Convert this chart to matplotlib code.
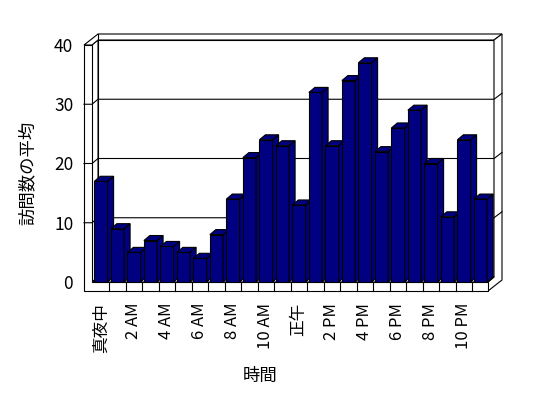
import matplotlib.pyplot as plt
from matplotlib.patches import Polygon

plt.rcParams['font.family'] = ['Noto Sans CJK JP', 'DejaVu Sans']

# average visits per hour
hours = list(range(24))
visits = [17, 9, 5, 7, 6, 5, 4, 8, 14, 21, 24, 23,
          13, 32, 23, 34, 37, 22, 26, 29, 20, 11, 24, 14]
tick_pos = list(range(0, 24, 2))
tick_labels = ['真夜中', '2 AM', '4 AM', '6 AM', '8 AM', '10 AM',
               '正午', '2 PM', '4 PM', '6 PM', '8 PM', '10 PM']
y_ticks = [0, 10, 20, 30, 40]

navy = '#000080'
lw = 0.8

W, H = 548, 398
fig = plt.figure(figsize=(W / 100, H / 100), dpi=100)
ax = fig.add_axes([92 / W, (H - 282) / H, 396 / W, 237 / H])
x0, x1 = -0.545, 23.455
ax.set_xlim(x0, x1)
ax.set_ylim(0, 40)
for s in ax.spines.values():
    s.set_visible(False)

# pixels -> data units
sx = 396 / (x1 - x0)
sy = 237 / 40
def px(dxp, dyp):
    return dxp / sx, dyp / sy

dx, dy = px(6, 5)        # depth of plot area
Dx, Dy = px(14, 11)      # depth incl. back wall thickness
wall, _ = px(8, 0)       # left wall thickness
_, floor = px(0, 9)      # floor thickness
ymax = 40

def poly(pts, fc='white', z=1):
    ax.add_patch(Polygon(pts, closed=True, facecolor=fc, edgecolor='black',
                         linewidth=lw, zorder=z, clip_on=False))

# back wall face
poly([(x0 + dx, dy), (x1 + dx, dy), (x1 + dx, ymax + dy), (x0 + dx, ymax + dy)])
# left wall inner face
poly([(x0, 0), (x0 + dx, dy), (x0 + dx, ymax + dy), (x0, ymax)])
# top of walls
poly([(x0 - wall, ymax), (x0, ymax), (x0 + dx, ymax + dy), (x1 + dx, ymax + dy),
      (x1 + Dx, ymax + Dy), (x0 - wall + Dx, ymax + Dy)])
ax.plot([x0 + dx, x0 - wall + Dx], [ymax + dy, ymax + Dy], color='black', lw=lw,
        zorder=1.5, clip_on=False)
# right end of back wall and floor
poly([(x1 + dx, ymax + dy), (x1 + Dx, ymax + Dy), (x1 + Dx, Dy - floor),
      (x1, -floor), (x1, 0), (x1 + dx, dy)])
# floor top
poly([(x0, 0), (x1, 0), (x1 + dx, dy), (x0 + dx, dy)])
# left wall front + floor front (L shape)
poly([(x0 - wall, ymax), (x0, ymax), (x0, 0), (x1, 0), (x1, -floor), (x0 - wall, -floor)])

# gridlines on walls
for v in y_ticks[1:-1]:
    ax.plot([x0 - wall, x0, x0 + dx, x1 + dx, x1 + Dx],
            [v, v, v + dy, v + dy, v + Dy], color='black', lw=lw, zorder=1.5,
            clip_on=False)
# category dividers on the floor front
for k in range(1, len(hours)):
    ax.plot([k - 0.5, k - 0.5], [-floor, 0], color='black', lw=lw, zorder=1.5,
            clip_on=False)

# bars with 3d side and top
w = 0.8
bars = ax.bar(hours, visits, width=w, color=navy, edgecolor='black', linewidth=lw)
for i, (b, v) in enumerate(zip(bars, visits)):
    z = 3 + i
    b.set_zorder(z)
    r = i + w / 2
    l = i - w / 2
    poly([(r, 0), (r + dx, dy), (r + dx, v + dy), (r, v)], fc=navy, z=z)
    poly([(l, v), (r, v), (r + dx, v + dy), (l + dx, v + dy)], fc=navy, z=z)

ax.set_xticks(tick_pos)
ax.set_xticklabels(tick_labels, rotation=90, fontsize=12)
ax.set_yticks(y_ticks)
ax.set_yticklabels([str(t) for t in y_ticks], fontsize=12.5)
ax.tick_params(axis='x', length=0, pad=15)
ax.tick_params(axis='y', length=0, pad=13.5)

ax.set_ylabel('訪問数の平均', fontsize=12.5)
ax.yaxis.set_label_coords(-0.14, 0.462)
ax.set_xlabel('時間', fontsize=12.5)
ax.xaxis.set_label_coords(0.424, -0.36)

fig.savefig('out.png', dpi=100)
